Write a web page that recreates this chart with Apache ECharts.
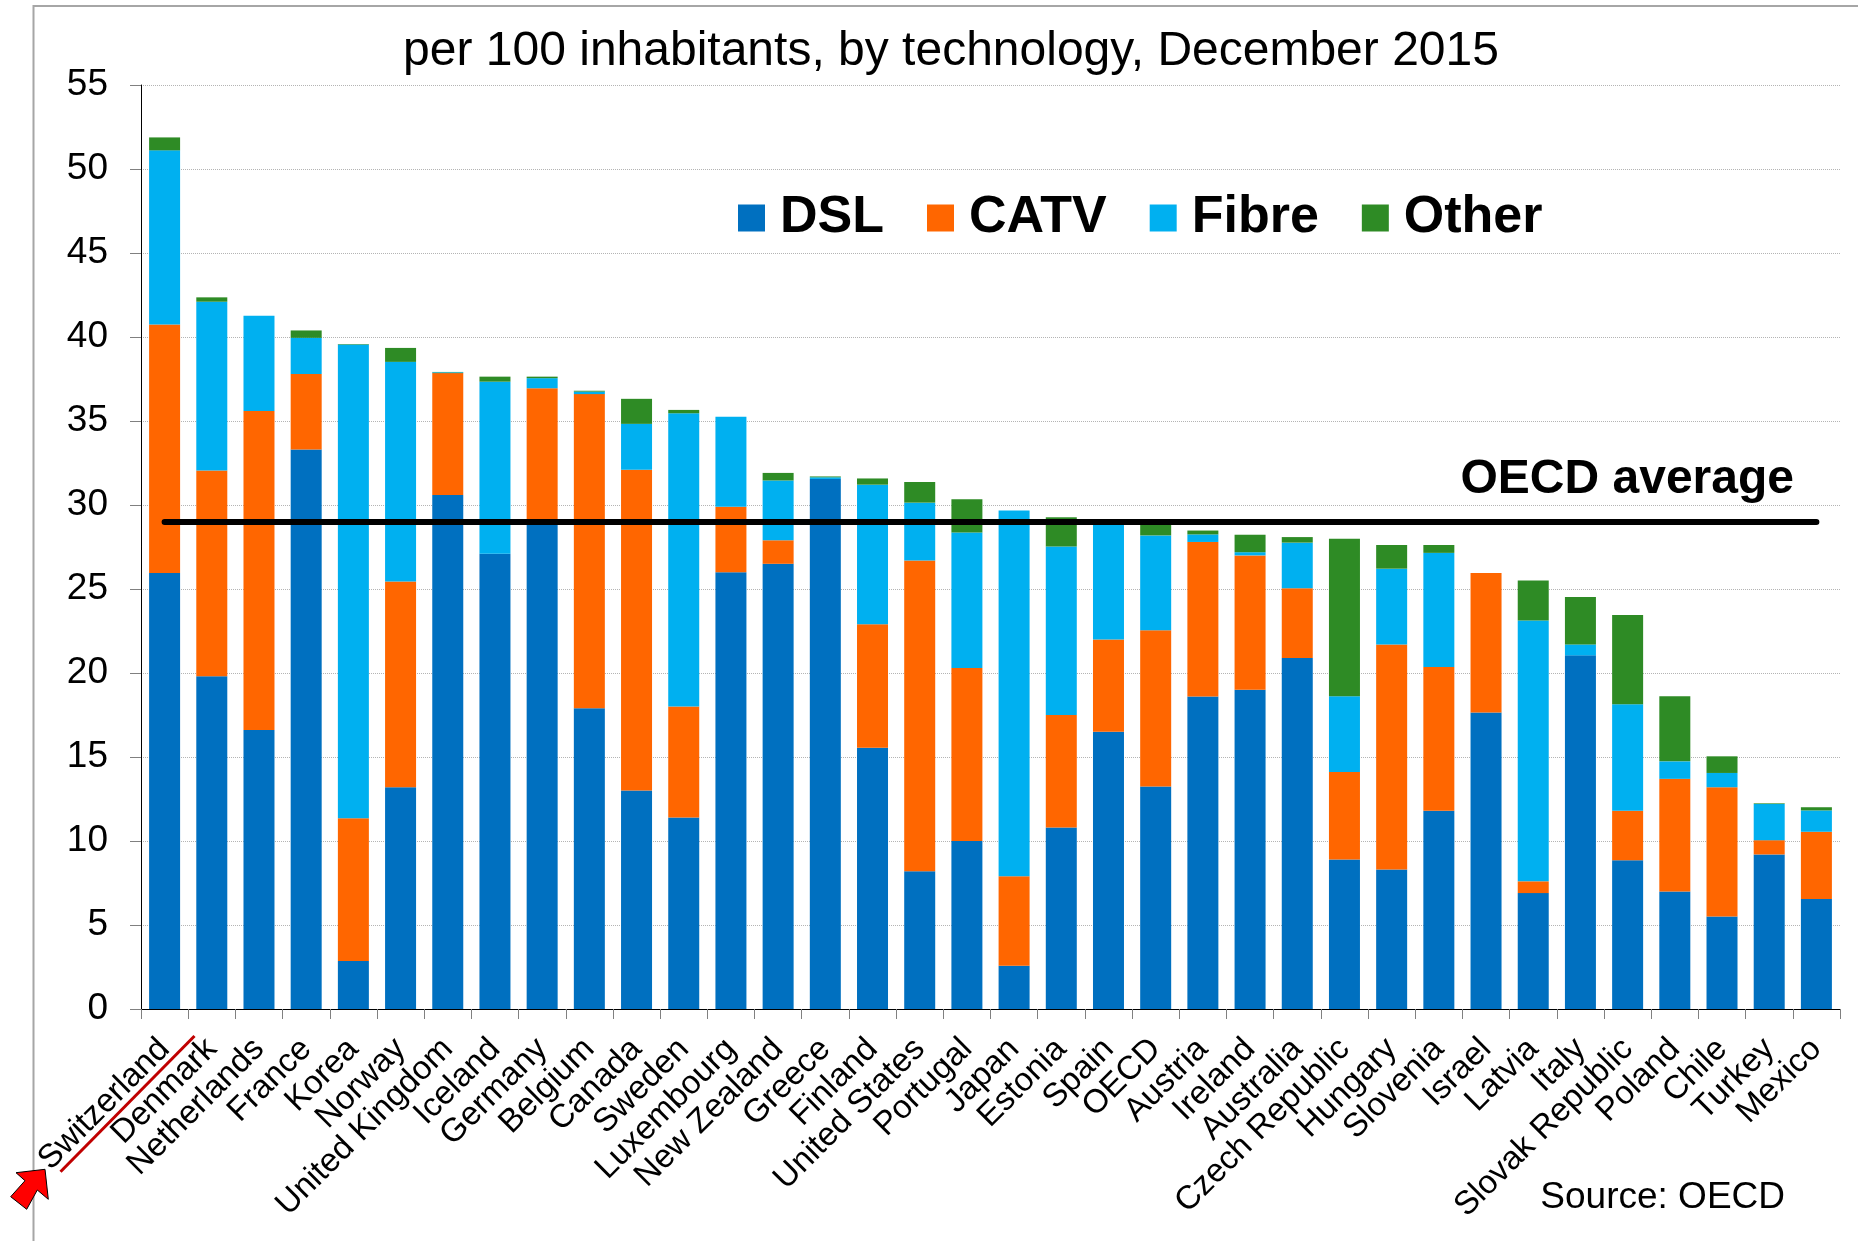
<!DOCTYPE html>
<html>
<head>
<meta charset="utf-8">
<script src="https://cdn.jsdelivr.net/npm/echarts@6/dist/echarts.min.js"></script>
<style>
html,body{margin:0;padding:0;background:#fff;}
#chart{width:1858px;height:1241px;}
</style>
</head>
<body>
<div id="chart"></div>
<script>
const categories = ['Switzerland','Denmark','Netherlands','France','Korea','Norway','United Kingdom','Iceland','Germany','Belgium','Canada','Sweden','Luxembourg','New Zealand','Greece','Finland','United States','Portugal','Japan','Estonia','Spain','OECD','Austria','Ireland','Australia','Czech Republic','Hungary','Slovenia','Israel','Latvia','Italy','Slovak Republic','Poland','Chile','Turkey','Mexico'];

const dsl   = [25.95,19.8,16.6,33.3,2.85,13.2,30.6,27.1,28.85,17.9,13.0,11.4,26.0,26.5,31.55,15.55,8.2,10.0,2.57,10.8,16.5,13.25,18.6,19.0,20.9,8.9,8.3,11.8,17.65,6.9,21.05,8.85,7.0,5.5,9.2,6.55];
const catv  = [14.8,12.25,19.0,4.5,8.5,12.25,7.25,0,8.1,18.7,19.1,6.6,3.9,1.4,0,7.35,18.5,10.3,5.33,6.7,5.5,9.3,9.2,8.0,4.15,5.2,13.4,8.55,8.3,0.7,0,2.95,6.7,7.7,0.85,4.0];
const fibre = [10.36,10.05,5.66,2.15,28.2,13.07,0.05,10.24,0.6,0.15,2.73,17.46,5.36,3.56,0.1,8.31,3.44,8.06,21.77,10.03,6.82,5.64,0.45,0.19,2.71,4.52,4.51,6.8,0,15.52,0.65,6.34,1.04,0.85,2.15,1.27];
const other = [0.77,0.26,0,0.44,0.03,0.83,0.02,0.3,0.09,0.05,1.49,0.2,0,0.45,0.05,0.37,1.23,1.98,0,1.74,0.05,0.8,0.23,1.04,0.33,9.37,1.41,0.47,0,2.39,2.83,5.31,3.88,0.99,0.04,0.19];

const oecdAverage = 29;
const yTicks = {min: 0, max: 55, interval: 5};

const seriesNames = ['DSL','CATV','Fibre','Other'];
const seriesColors = ['#0070C0','#FF6600','#00B0F0','#2E8B25'];
const seriesData = [dsl, catv, fibre, other];

const FONT = "'Liberation Sans', Arial, Helvetica, sans-serif";

const chart = echarts.init(document.getElementById('chart'), null, {renderer: 'canvas'});

const series = seriesNames.map((name, i) => ({
  name: name,
  type: 'bar',
  stack: 'total',
  barWidth: 31,
  data: seriesData[i],
  itemStyle: {color: seriesColors[i]},
  emphasis: {disabled: true},
  animation: false
}));

series[3].markLine = {
  silent: true,
  symbol: ['none','none'],
  label: {show: false},
  lineStyle: {color: '#000', width: 6, type: 'solid', cap: 'round'},
  animation: false,
  data: [[{coord: [categories[0], oecdAverage]}, {coord: [categories[categories.length - 1], oecdAverage]}]]
};

const option = {
  backgroundColor: '#fff',
  animation: false,
  title: {
    text: 'per 100 inhabitants, by technology, December 2015',
    left: 946,
    top: 23,
    textAlign: 'center',
    textStyle: {fontFamily: FONT, fontSize: 48, fontWeight: 'normal', color: '#000', lineHeight: 48}
  },
  legend: {
    data: seriesNames,
    left: 733,
    top: 187,
    itemWidth: 27,
    itemHeight: 27,
    itemGap: 43,
    icon: 'rect',
    selectedMode: false,
    textStyle: {fontFamily: FONT, fontSize: 52, fontWeight: 'bold', color: '#000', lineHeight: 52, padding: [0,0,0,10]}
  },
  grid: {left: 141, right: 18, top: 85, bottom: 232, containLabel: false},
  xAxis: {
    type: 'category',
    data: categories,
    boundaryGap: true,
    axisLine: {show: true, lineStyle: {color: '#000', width: 1}},
    axisTick: {show: true, length: 10, lineStyle: {color: '#808080', width: 1}, interval: 0},
    axisLabel: {
      interval: 0,
      rotate: 45,
      margin: 35,
      align: 'right',
      verticalAlign: 'middle',
      fontFamily: FONT,
      fontSize: 33,
      color: '#000',
      lineHeight: 33
    },
    splitLine: {show: false}
  },
  yAxis: {
    type: 'value',
    min: yTicks.min,
    max: yTicks.max,
    interval: yTicks.interval,
    axisLine: {show: true, lineStyle: {color: '#000', width: 1}},
    axisTick: {show: true, length: 11, lineStyle: {color: '#808080', width: 1}},
    axisLabel: {margin: 33, fontFamily: FONT, fontSize: 37, color: '#000'},
    splitLine: {show: true, lineStyle: {color: '#b4b4b4', width: 1, type: 'dotted'}}
  },
  series: series,
  graphic: [
    {type: 'rect', silent: true, z: -10, shape: {x: 33.5, y: 6, width: 1900, height: 1400},
     style: {fill: 'none', stroke: '#a6a6a6', lineWidth: 2}},
    {type: 'text', silent: true, z: 100,
     style: {text: 'OECD average', x: 1794, y: 480, align: 'right', verticalAlign: 'middle',
             fontFamily: FONT, fontSize: 48, fontWeight: 'bold', fill: '#000'}},
    {type: 'text', silent: true, z: 100,
     style: {text: 'Source: OECD', x: 1785, y: 1198, align: 'right', verticalAlign: 'middle',
             fontFamily: FONT, fontSize: 37, fontWeight: 'normal', fill: '#000'}},
    {type: 'line', silent: true, z: 100, shape: {x1: 60.5, y1: 1171.7, x2: 194.5, y2: 1036},
     style: {stroke: '#C00000', lineWidth: 3}},
    {type: 'polygon', silent: true, z: 100,
     shape: {points: [[45,1169.3],[16,1172.7],[25,1180.7],[10.7,1196.7],[26.7,1209.3],[37.3,1190],[48.3,1199.3]]},
     style: {fill: '#FF0000', stroke: '#000', lineWidth: 1}}
  ]
};

chart.setOption(option);
</script>
</body>
</html>
